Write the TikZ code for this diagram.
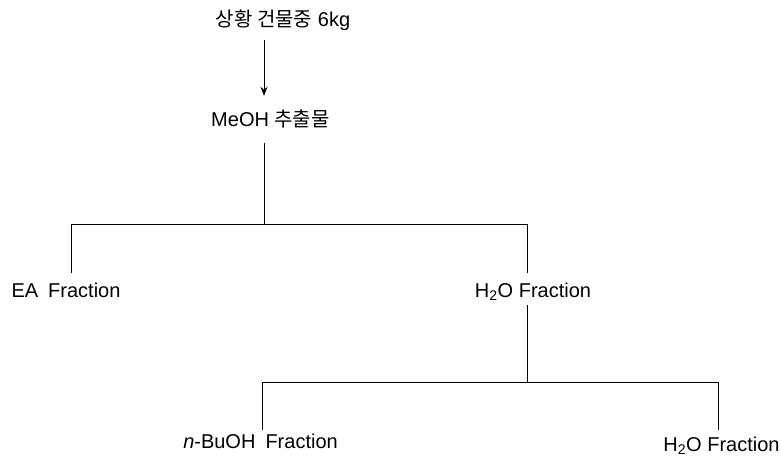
\documentclass[tikz,border=0pt]{standalone}
\usepackage{fontspec}
\setmainfont{Liberation Sans}
\newfontfamily\kr{Noto Sans CJK KR}
\usetikzlibrary{arrows.meta,calc}
\begin{document}
\begin{tikzpicture}[x=1pt,y=-1pt,
  lbl/.style={inner sep=0pt, text height=15pt, text depth=4pt, anchor=base, font=\fontsize{20}{24}\selectfont},
  conn/.style={line width=0.9pt, draw=black},
  arr/.style={conn, -{Stealth[length=9pt,width=7pt]}}]
\useasboundingbox (0,0) rectangle (781,461);
% labels
\node[lbl] (top)  at (283,26)   {{\kr 상황 건물중} 6kg};
\node[lbl] (meoh) at (270.5,126) {MeOH {\kr 추출물}};
\node[lbl] (ea)   at (66,297)   {EA\hspace{0.5em}Fraction};
\node[lbl] (h2o)  at (533,297)  {H\textsubscript{2}O Fraction};
\node[lbl] (bu)   at (260.5,448) {\textit{n}-BuOH\hspace{0.5em}Fraction};
\node[lbl] (w2)   at (721.5,451) {H\textsubscript{2}O Fraction};
% helper coordinates
\coordinate (x1) at (264,0);
\coordinate (b1) at (0,224);
\coordinate (eaX) at (71,0);
\coordinate (x2) at (527,0);
\coordinate (b2) at (0,382);
\coordinate (bX) at (262,0);
\coordinate (wX) at (718,0);
% connectors
\draw[arr] ($(top.south -| x1)+(0,10)$) -- ($(meoh.north -| x1)+(0,-15)$);
\draw[conn] ($(meoh.south -| x1)+(0,13)$) -- (x1 |- b1);
\draw[conn] ($(ea.north -| eaX)+(0,-9)$) |- (b1 -| x2) -- ($(h2o.north -| x2)+(0,-9)$);
\draw[conn] ($(h2o.south -| x2)+(0,4)$) -- (x2 |- b2);
\draw[conn] ($(bu.north -| bX)+(0,-3)$) |- (b2 -| wX) -- ($(w2.north -| wX)+(0,-6)$);
\end{tikzpicture}
\end{document}
